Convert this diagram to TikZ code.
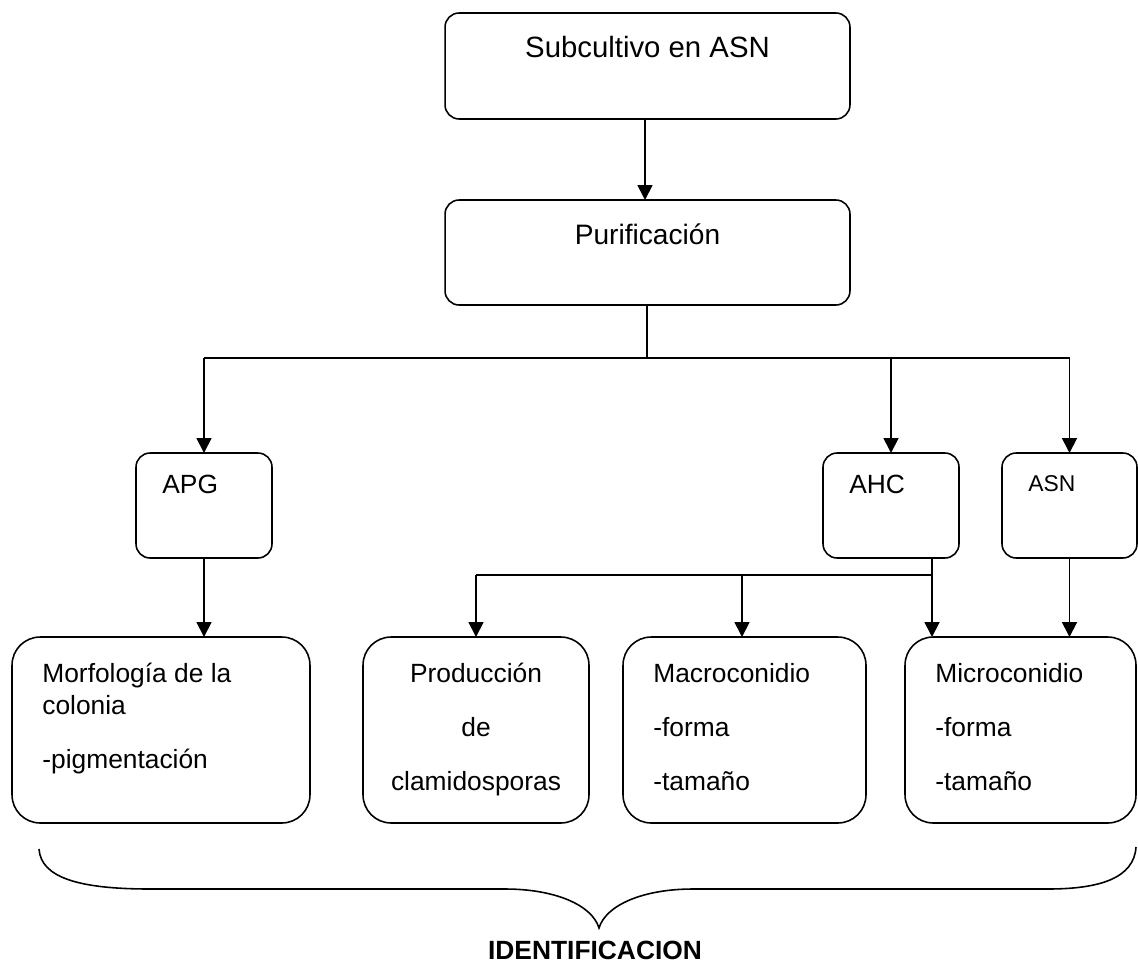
\documentclass[tikz,border=0pt]{standalone}
\usepackage{fontspec}
\setmainfont{Liberation Sans}
\usetikzlibrary{arrows.meta,calc}

\tikzset{
  caja/.style={draw, line width=0.9pt, inner sep=0pt, outer sep=0pt, rounded corners=8pt},
  cajagrande/.style={caja, rounded corners=16pt, minimum width=#1, minimum height=3.72cm},
  flecha/.style={-{Triangle[length=0.3cm,width=0.3cm]}, line width=1pt},
  linea/.style={line width=1pt},
  texto/.style={inner sep=0pt, font=\fontsize{15}{18}\selectfont}
}

\begin{document}
\begin{tikzpicture}[x=0.02cm, y=-0.02cm]
        \useasboundingbox (0,0) rectangle (1138,963);

        % Upper boxes
        \node[caja, minimum width=8.1cm, minimum height=2.12cm] (sub) at (647.5,66) {};
        \node[caja, minimum width=8.1cm, minimum height=2.1cm] (pur) at (647.5,252.5) {};
        \node[texto, anchor=base, font=\fontsize{16.7}{20}\selectfont] (subtxt) at ($(sub.north)+(0,44)$) {Subcultivo en ASN};
        \node[texto, anchor=base, font=\fontsize{16}{19}\selectfont] (purtxt) at ($(pur.north)+(0,44)$) {Purificación};

        % Culture media
        \node[caja, minimum width=2.72cm, minimum height=2.1cm] (apg) at (204,505.5) {};
        \node[caja, minimum width=2.72cm, minimum height=2.1cm] (ahc) at (891,505.5) {};
        \node[caja, minimum width=2.7cm, minimum height=2.1cm] (asn) at (1069.5,505.5) {};
        \node[texto, anchor=base west] (apgtxt) at ($(apg.north west)+(26,40)$) {APG};
        \node[texto, anchor=base west] (ahctxt) at ($(ahc.north west)+(26,40)$) {AHC};
        \node[texto, anchor=base west, font=\fontsize{13}{16}\selectfont] (asntxt) at ($(asn.north west)+(26,38)$) {ASN};

        % Characters observed
        \node[cajagrande=5.96cm] (morf) at (161,730) {};
        \node[cajagrande=4.52cm] (prod) at (476,730) {};
        \node[cajagrande=4.86cm] (macro) at (744.5,730) {};
        \node[cajagrande=4.62cm] (micro) at (1020.5,730) {};

        \foreach \txt/\dy [count=\i] in {Morfología de la/45, colonia/77, -pigmentación/131}
          \node[texto, anchor=base west] (morf\i) at ($(morf.north west)+(30,\dy)$) {\txt};
        \foreach \txt/\dy [count=\i] in {Producción/45, de/99, clamidosporas/153}
          \node[texto, anchor=base] (prod\i) at ($(prod.north)+(0,\dy)$) {\txt};
        \foreach \txt/\dy [count=\i] in {Macroconidio/45, -forma/99, -tamaño/153}
          \node[texto, anchor=base west] (macro\i) at ($(macro.north west)+(30,\dy)$) {\txt};
        \foreach \txt/\dy [count=\i] in {Microconidio/45, -forma/99, -tamaño/153}
          \node[texto, anchor=base west] (micro\i) at ($(micro.north west)+(30,\dy)$) {\txt};

        % Connections
        \coordinate (hub) at (647,358);
        \coordinate (ahcout) at ($(ahc.south)+(41,0)$);
        \coordinate (ramal) at (0,575);
        \draw[flecha] (sub.south -| 645,0) -- (pur.north -| 645,0);
        \draw[linea] (pur.south -| hub) -- (hub);
        \draw[linea] (apg.north |- hub) -- (asn.north |- hub);
        \foreach \caja in {apg, ahc, asn}
          \draw[flecha] (\caja.north |- hub) -- (\caja.north);

        \draw[flecha] (apg.south) -- (apg.south |- morf.north);
        \draw[flecha] (asn.south) -- (asn.south |- micro.north);
        \draw[flecha] (ahcout) -- (ahcout |- micro.north);
        \draw[linea] (prod.north |- ramal) -- (ahcout |- ramal);
        \draw[flecha] (prod.north |- ramal) -- (prod.north);
        \draw[flecha] (742,575) -- (742,637);

        % Brace
        \coordinate (punta) at (599,928);
        \draw[line width=0.9pt] (39,849) .. controls (41,878) and (80,889) .. (150,889)
          -- (505,889) .. controls (555,889) and (592,905) .. (punta)
          .. controls (606,905) and (643,889) .. (693,889)
          -- (1048,889) .. controls (1100,889) and (1134,878) .. (1136,847);
        \node[anchor=base, inner sep=0pt, font=\bfseries\fontsize{15}{18}\selectfont] (ident) at ($(punta)+(-4,31)$) {IDENTIFICACION};
\end{tikzpicture}
\end{document}
